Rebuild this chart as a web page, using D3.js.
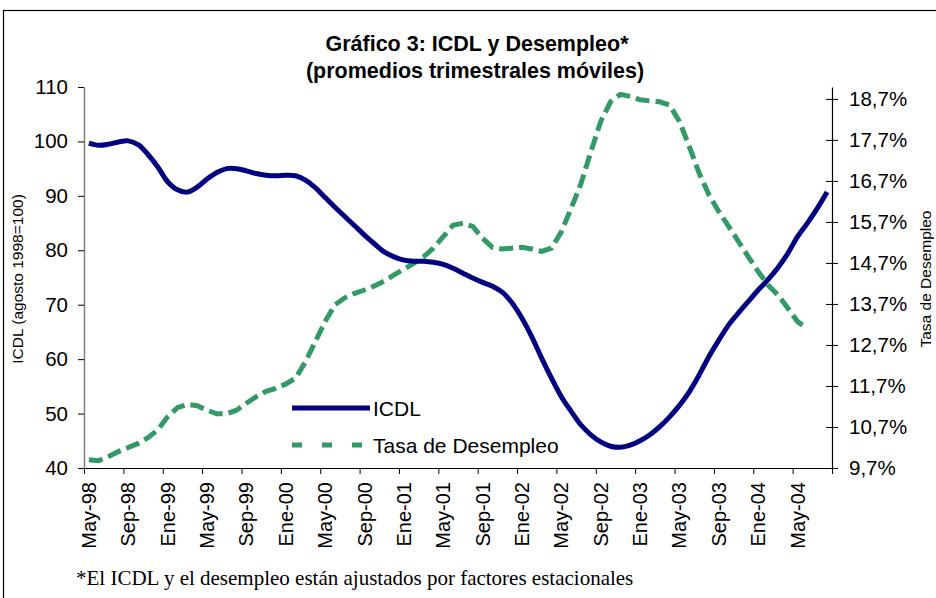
<!DOCTYPE html>
<html>
<head>
<meta charset="utf-8">
<script src="https://cdn.jsdelivr.net/npm/d3@7"></script>
<style>
  body { margin: 0; background: #fff; }
  text { font-family: Arial, "Liberation Sans", sans-serif; fill: #000; }
</style>
</head>
<body>
<svg id="chart" width="936" height="598"></svg>
<script>
// Months on the category axis (May-98 .. Ago-04)
const months = [
  "May-98","Jun-98","Jul-98","Ago-98","Sep-98","Oct-98","Nov-98","Dic-98",
  "Ene-99","Feb-99","Mar-99","Abr-99","May-99","Jun-99","Jul-99","Ago-99","Sep-99","Oct-99","Nov-99","Dic-99",
  "Ene-00","Feb-00","Mar-00","Abr-00","May-00","Jun-00","Jul-00","Ago-00","Sep-00","Oct-00","Nov-00","Dic-00",
  "Ene-01","Feb-01","Mar-01","Abr-01","May-01","Jun-01","Jul-01","Ago-01","Sep-01","Oct-01","Nov-01","Dic-01",
  "Ene-02","Feb-02","Mar-02","Abr-02","May-02","Jun-02","Jul-02","Ago-02","Sep-02","Oct-02","Nov-02","Dic-02",
  "Ene-03","Feb-03","Mar-03","Abr-03","May-03","Jun-03","Jul-03","Ago-03","Sep-03","Oct-03","Nov-03","Dic-03",
  "Ene-04","Feb-04","Mar-04","Abr-04","May-04","Jun-04","Jul-04","Ago-04"
];

// ICDL (agosto 1998=100), left axis
const icdl = [
  99.7, 99.3, 99.5, 99.9, 100.1, 99.4, 97.6, 95.3, 92.6, 91.1, 90.7, 91.6, 93.1, 94.3, 95.0, 95.0, 94.6, 94.1, 93.8,
  93.7, 93.8, 93.7, 92.9, 91.5, 89.7, 87.9, 86.2, 84.5, 82.8, 81.2, 79.7, 78.8, 78.2, 78.0, 78.0, 77.8, 77.4, 76.7,
  75.8, 74.9, 74.1, 73.4, 72.3, 70.3, 67.5, 64.1, 60.2, 56.5, 53.1, 50.4, 47.9, 46.1, 44.8, 44.0, 43.8, 44.2, 45.0,
  46.1, 47.6, 49.4, 51.5, 54.0, 57.1, 60.5, 63.5, 66.3, 68.5, 70.6, 72.7, 74.6, 76.8, 79.4, 82.5, 85.0, 87.7, 90.7
];

// Tasa de desempleo (%), right axis, ends Jun-04
const desempleo = [
  9.90, 9.88, 9.98, 10.10, 10.20, 10.30, 10.44, 10.63, 10.95, 11.17, 11.25, 11.22, 11.11, 11.02, 11.02, 11.11, 11.28, 11.44, 11.57,
  11.64, 11.75, 11.89, 12.29, 12.78, 13.27, 13.68, 13.85, 13.96, 14.04, 14.14, 14.26, 14.41, 14.55, 14.69, 14.85, 15.06, 15.34, 15.62,
  15.67, 15.59, 15.30, 15.08, 15.04, 15.06, 15.08, 15.04, 14.98, 15.06, 15.46, 16.03, 16.64, 17.41, 18.15, 18.63, 18.81, 18.76, 18.68,
  18.65, 18.63, 18.55, 18.15, 17.54, 16.89, 16.36, 15.95, 15.59, 15.22, 14.85, 14.49, 14.16, 13.92, 13.60, 13.27, 13.10
];

const tickLabels = ["May-98","Sep-98","Ene-99","May-99","Sep-99","Ene-00","May-00","Sep-00","Ene-01","May-01",
  "Sep-01","Ene-02","May-02","Sep-02","Ene-03","May-03","Sep-03","Ene-04","May-04"];
const leftTicks = [40, 50, 60, 70, 80, 90, 100, 110];
const rightTicks = [9.7, 10.7, 11.7, 12.7, 13.7, 14.7, 15.7, 16.7, 17.7, 18.7];

const svg = d3.select('#chart');
const plotLeft = 84, plotRight = 832, plotTop = 87, plotBottom = 468;

// frame
svg.append('rect')
  .attr('x', 3.5).attr('y', 10.5)
  .attr('width', 1000).attr('height', 1000)
  .attr('fill', 'none').attr('stroke', '#000').attr('stroke-width', 1.2);

// scales
const x = d3.scaleBand().domain(months).range([plotLeft, plotRight]).padding(0);
const xIdx = d3.scaleLinear().domain([0, months.length]).range([plotLeft, plotRight]);
const yL = d3.scaleLinear().domain([40, 110]).range([plotBottom, plotTop]);
const yR = d3.scaleLinear().domain([9.7, 18.99]).range([plotBottom, plotTop]);
const cx = m => x(m) + x.bandwidth() / 2;

// bottom axis: ticks on category boundaries, labels at category centres
const xTicks = d3.range(0, months.length + 1, 4);
const gx = svg.append('g')
  .attr('transform', `translate(0,${plotBottom})`)
  .call(d3.axisBottom(xIdx).tickValues(xTicks).tickFormat('').tickSize(6).tickSizeOuter(0));
gx.select('.domain').attr('stroke', '#000').attr('stroke-width', 1.2);
gx.selectAll('.tick line').attr('stroke', '#000');

svg.append('g').selectAll('text')
  .data(tickLabels)
  .enter()
  .append('text')
  .attr('transform', d => `translate(${cx(d)},${plotBottom + 14}) rotate(-90)`)
  .attr('dy', '0.35em')
  .attr('text-anchor', 'end')
  .style('font-size', '20px')
  .text(d => d);

// left axis
const gl = svg.append('g')
  .attr('transform', `translate(${plotLeft},0)`)
  .call(d3.axisLeft(yL).tickValues(leftTicks).tickSize(6).tickSizeOuter(0).tickPadding(10));
gl.select('.domain').attr('stroke', '#808080').attr('stroke-width', 1.5);
gl.selectAll('.tick line').attr('stroke', '#000');
gl.selectAll('.tick text').style('font-size', '20.5px').attr('font-family', null);

// right axis (cross ticks)
const gr = svg.append('g')
  .attr('transform', `translate(${plotRight},0)`)
  .call(d3.axisRight(yR).tickValues(rightTicks).tickSize(6).tickSizeOuter(0).tickPadding(11)
    .tickFormat(d => d3.format('.1f')(d).replace('.', ',') + '%'));
gr.select('.domain').attr('stroke', '#000').attr('stroke-width', 1.2);
gr.selectAll('.tick line').attr('x1', -6).attr('x2', 6).attr('stroke', '#000');
gr.selectAll('.tick text').style('font-size', '20.5px').attr('font-family', null);

// lines
const lineL = d3.line()
  .x((d, i) => cx(months[i]))
  .y(d => yL(d))
  .curve(d3.curveCatmullRom.alpha(0.5));
const lineR = d3.line()
  .x((d, i) => cx(months[i]))
  .y(d => yR(d));

svg.append('path')
  .datum(desempleo)
  .attr('d', lineR)
  .attr('fill', 'none')
  .attr('stroke', '#339966')
  .attr('stroke-width', 5)
  .attr('stroke-dasharray', '14,6');

svg.append('path')
  .datum(icdl)
  .attr('d', lineL)
  .attr('fill', 'none')
  .attr('stroke', '#000080')
  .attr('stroke-width', 5);

// legend
const legend = svg.append('g');
legend.append('line')
  .attr('x1', 292).attr('x2', 370).attr('y1', 408).attr('y2', 408)
  .attr('stroke', '#000080').attr('stroke-width', 5);
legend.append('text')
  .attr('x', 373).attr('y', 409).attr('dy', '0.35em')
  .style('font-size', '21px').text('ICDL');
legend.append('line')
  .attr('x1', 292).attr('x2', 362).attr('y1', 445).attr('y2', 445)
  .attr('stroke', '#339966').attr('stroke-width', 5)
  .attr('stroke-dasharray', '10,20');
legend.append('text')
  .attr('x', 373).attr('y', 446).attr('dy', '0.35em')
  .style('font-size', '21px').text('Tasa de Desempleo');

// titles
svg.append('text')
  .attr('x', 477).attr('y', 43).attr('dy', '0.35em')
  .attr('text-anchor', 'middle')
  .style('font-size', '21.5px').style('font-weight', 'bold')
  .text('Gráfico 3: ICDL y Desempleo*');
svg.append('text')
  .attr('x', 475).attr('y', 70).attr('dy', '0.35em')
  .attr('text-anchor', 'middle')
  .style('font-size', '21.5px').style('font-weight', 'bold')
  .text('(promedios trimestrales móviles)');

svg.append('text')
  .attr('transform', 'translate(18,279) rotate(-90)')
  .attr('dy', '0.35em')
  .attr('text-anchor', 'middle')
  .style('font-size', '15.5px')
  .text('ICDL (agosto 1998=100)');
svg.append('text')
  .attr('transform', 'translate(926,279) rotate(-90)')
  .attr('dy', '0.35em')
  .attr('text-anchor', 'middle')
  .style('font-size', '15.5px')
  .text('Tasa de Desempleo');

// footnote
svg.append('text')
  .attr('x', 76).attr('y', 578).attr('dy', '0.35em')
  .style('font-family', '"Liberation Serif", "Times New Roman", serif')
  .style('font-size', '21px')
  .text('*El ICDL y el desempleo están ajustados por factores estacionales');
</script>
</body>
</html>
